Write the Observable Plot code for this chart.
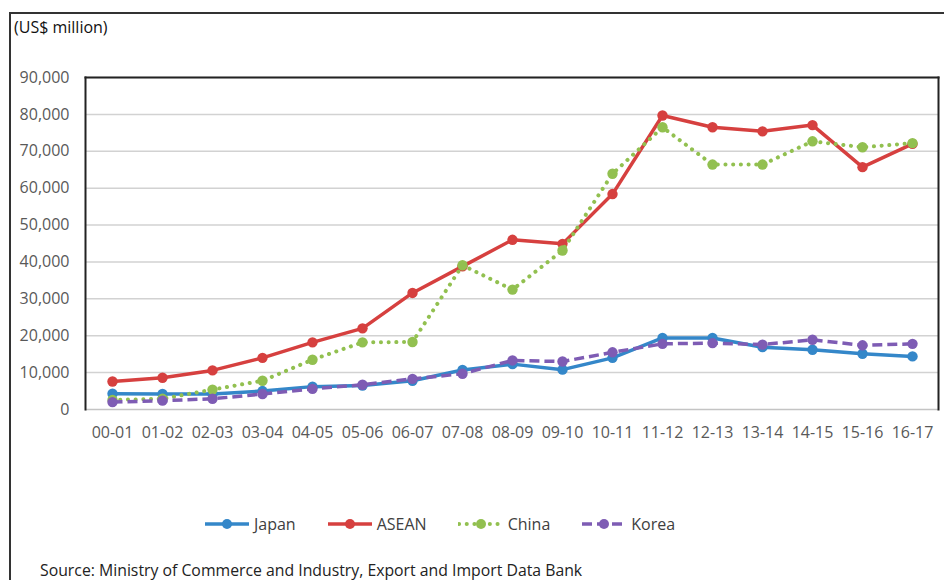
<!DOCTYPE html>
<html>
<head>
<meta charset="utf-8">
<script src="https://cdn.jsdelivr.net/npm/d3@7"></script>
<script src="https://cdn.jsdelivr.net/npm/@observablehq/plot@0.6"></script>
<style>
  body { margin: 0; background: #fff; font-family: "Open Sans", sans-serif; }
  #page { position: relative; width: 944px; height: 580px; overflow: hidden; background: #fff; }
  #frame { position: absolute; left: 9px; top: 12px; width: 980px; height: 620px; border: 2px solid #333; box-sizing: border-box; }
  #unit { position: absolute; left: 14px; top: 16px; font-size: 16px; color: #111; }
  #chart { position: absolute; left: 0; top: 60px; }
  #legend { position: absolute; left: 204px; top: 513px; display: flex; gap: 31px; align-items: center; font-size: 16px; color: #404040; }
  #legend .item { display: flex; align-items: center; }
  #legend .item span { margin-left: 4px; }
  #source { position: absolute; left: 40px; top: 562px; font-size: 15.8px; line-height: 17px; color: #222; white-space: nowrap; }
</style>
</head>
<body>
<div id="page">
  <div id="frame"></div>
  <div id="unit">(US$ million)</div>
  <div id="chart"></div>
  <div id="legend"></div>
  <div id="source">Source: Ministry of Commerce and Industry, Export and Import Data Bank</div>
</div>
<script>
// Fiscal years on the x axis
const years = ["00-01", "01-02", "02-03", "03-04", "04-05", "05-06", "06-07", "07-08", "08-09",
               "09-10", "10-11", "11-12", "12-13", "13-14", "14-15", "15-16", "16-17"];

// Trade values, US$ million
const japan = [4300, 4200, 4200, 5000, 6200, 6500, 7800, 10700, 12300, 10800, 14000, 19400, 19400, 16900, 16200, 15100, 14400];
const asean = [7600, 8600, 10600, 14000, 18200, 22000, 31600, 38800, 46000, 44900, 58400, 79700, 76500, 75400, 77100, 65700, 72000];
const china = [2600, 2900, 5400, 7800, 13500, 18200, 18300, 39100, 32500, 43100, 63900, 76500, 66400, 66400, 72700, 71100, 72200];
const korea = [2000, 2400, 2900, 4200, 5600, 6700, 8300, 9700, 13300, 13000, 15500, 17800, 18000, 17600, 18900, 17400, 17800];

// Y axis ticks
const yTicks = [0, 10000, 20000, 30000, 40000, 50000, 60000, 70000, 80000, 90000];

// Series styling
const series = [
  {name: "Japan", values: japan, color: "#3487c9", dash: null, width: 3.5, cap: "butt"},
  {name: "ASEAN", values: asean, color: "#d6403f", dash: null, width: 3.5, cap: "butt"},
  {name: "China", values: china, color: "#92c050", dash: "0.1 7.6", width: 4, cap: "round"},
  {name: "Korea", values: korea, color: "#7e5cb4", dash: "10 5", width: 3.5, cap: "butt"}
];

const marks = [
  Plot.gridY(yTicks.slice(1), {stroke: "#d2d2d2", strokeOpacity: 1, strokeWidth: 1.5}),
  Plot.ruleY([0], {stroke: "#c4c4c4", strokeWidth: 1.5}),
  Plot.frame({anchor: "top", stroke: "#222", strokeWidth: 2}),
  Plot.frame({anchor: "left", stroke: "#222", strokeWidth: 2}),
  Plot.frame({anchor: "right", stroke: "#222", strokeWidth: 2}),
  Plot.axisY(yTicks, {tickSize: 0, tickPadding: 16, tickFormat: d3.format(","), fontSize: 16, fill: "#595959", label: null}),
  Plot.axisX({tickSize: 0, tickPadding: 17, fontSize: 16, fill: "#595959", label: null})
];

for (const s of series) {
  const rows = years.map((year, i) => ({year, value: s.values[i]}));
  marks.push(Plot.line(rows, {
    x: "year", y: "value", stroke: s.color, strokeWidth: s.width,
    strokeDasharray: s.dash, strokeLinecap: s.cap, strokeLinejoin: "round"
  }));
  marks.push(Plot.dot(rows, {x: "year", y: "value", r: 5.2, fill: s.color, stroke: "none"}));
}

const chart = Plot.plot({
  width: 944,
  height: 390,
  marginTop: 17,
  marginBottom: 41,
  marginLeft: 85,
  marginRight: 6,
  style: {fontFamily: "'Open Sans', sans-serif", background: "transparent", overflow: "visible"},
  x: {type: "point", domain: years, padding: 0.5, axis: null},
  y: {domain: [0, 90000], axis: null},
  marks
});
document.getElementById("chart").append(chart);

// Legend swatches drawn with the same colours and dash patterns
const legend = document.getElementById("legend");
for (const s of series) {
  const item = document.createElement("div");
  item.className = "item";
  const ns = "http://www.w3.org/2000/svg";
  const svg = document.createElementNS(ns, "svg");
  svg.setAttribute("width", 46);
  svg.setAttribute("height", 14);
  const line = document.createElementNS(ns, "line");
  line.setAttribute("x1", 1); line.setAttribute("x2", 45);
  line.setAttribute("y1", 7); line.setAttribute("y2", 7);
  line.setAttribute("stroke", s.color);
  line.setAttribute("stroke-width", s.width);
  line.setAttribute("stroke-linecap", s.cap);
  if (s.dash) line.setAttribute("stroke-dasharray", s.dash);
  const dot = document.createElementNS(ns, "circle");
  dot.setAttribute("cx", 23); dot.setAttribute("cy", 7); dot.setAttribute("r", 5);
  dot.setAttribute("fill", s.color);
  svg.append(line, dot);
  const label = document.createElement("span");
  label.textContent = s.name;
  item.append(svg, label);
  legend.append(item);
}
</script>
</body>
</html>
